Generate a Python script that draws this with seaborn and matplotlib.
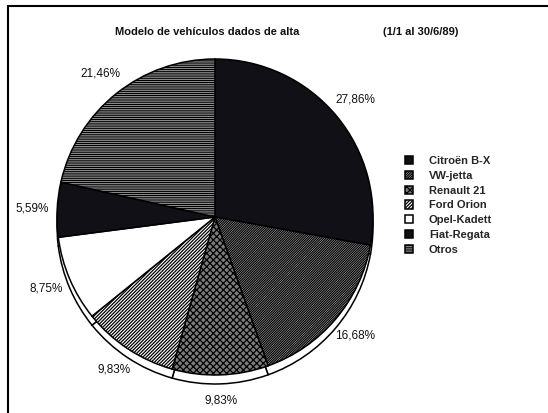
import matplotlib
matplotlib.use('Agg')
import matplotlib.pyplot as plt
import seaborn as sns
from matplotlib.lines import Line2D

# Datos
modelos = ['Citroën B-X', 'VW-jetta', 'Renault 21', 'Ford Orion',
           'Opel-Kadett', 'Fiat-Regata', 'Otros']
porcentajes = [27.86, 16.68, 9.83, 9.83, 8.75, 5.59, 21.46]
etiquetas = ['27,86%', '16,68%', '9,83%', '9,83%', '8,75%', '5,59%', '21,46%']

colores = ['#101016', '#d8d8d8', '#7c7c7c', 'white', 'white', '#101016', '#e4e4e4']
tramas = ['', '/' * 14, 'x' * 5, '/' * 10, '', '', '-' * 9]

sns.set_theme(style='white')
plt.rcParams['font.family'] = ['Liberation Sans', 'DejaVu Sans']
plt.rcParams['hatch.linewidth'] = 0.9
plt.rcParams['hatch.color'] = 'black'

W, H = 548, 413
fig = plt.figure(figsize=(W / 100, H / 100), dpi=100)
ax = fig.add_axes([0, 0, 1, 1])

cx, cy, r = 215, H - 217, 158

# borde inferior (efecto de profundidad)
ax.pie(porcentajes, startangle=90, counterclock=False, radius=r,
       center=(cx, cy - 9), colors=['white'] * len(porcentajes),
       wedgeprops=dict(edgecolor='black', linewidth=1.1), frame=True)

wedges, textos = ax.pie(porcentajes, labels=etiquetas, startangle=90,
                        counterclock=False, radius=r, center=(cx, cy),
                        colors=colores, labeldistance=1.16,
                        wedgeprops=dict(edgecolor='black', linewidth=1.1),
                        textprops=dict(fontsize=8.5, color='#111111'),
                        frame=True)
for t in textos:
    t.set_ha('center')
    t.set_va('center')
for w, h in zip(wedges, tramas):
    w.set_hatch(h)

ax.set_xlim(0, W)
ax.set_ylim(0, H)
ax.set_aspect('equal')
ax.axis('off')

fig.text(115 / W, 1 - 32 / H, 'Modelo de vehículos dados de alta',
         ha='left', va='center', fontsize=8, fontweight='bold', color='#111111')
fig.text(383 / W, 1 - 32 / H, '(1/1 al 30/6/89)',
         ha='left', va='center', fontsize=8, fontweight='bold', color='#111111')

fig.legend(wedges, modelos, loc='upper left', bbox_to_anchor=(405 / W, 1 - 156 / H),
           frameon=False, borderpad=0, borderaxespad=0, handlelength=0.75,
           handleheight=0.75, handletextpad=1.4, labelspacing=0.43,
           prop=dict(size=8, weight='bold'))

# marco
fig.add_artist(Line2D([8 / W, 1], [1 - 6 / H, 1 - 6 / H], color='black', lw=1.5))
fig.add_artist(Line2D([8 / W, 8 / W], [0, 1 - 6 / H], color='black', lw=1.5))

fig.savefig('out.png', dpi=100)
